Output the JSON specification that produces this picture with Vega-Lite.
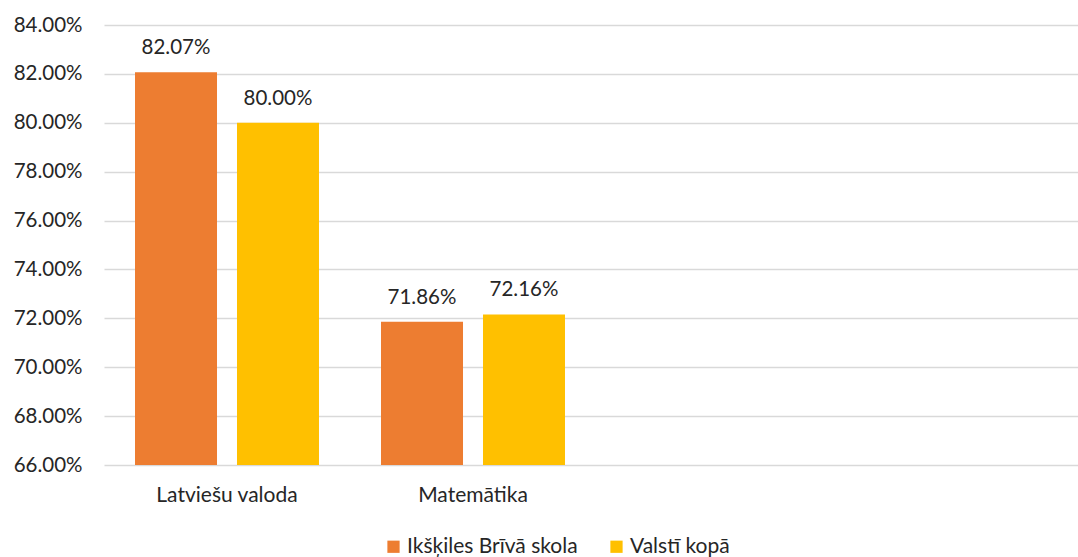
{
  "$schema": "https://vega.github.io/schema/vega-lite/v6.json",
  "width": 974,
  "height": 440,
  "padding": {"left": 104, "top": 25, "right": 0, "bottom": 92},
  "autosize": {"type": "none"},
  "background": "white",
  "config": {
    "view": {"stroke": null},
    "font": "Lato",
    "axis": {"labelFont": "Lato", "labelColor": "#262626", "labelFontSize": 20.5},
    "legend": {"labelFont": "Lato", "labelColor": "#262626", "labelFontSize": 21}
  },
  "data": {
    "values": [
      {"subject": "Latviešu valoda", "series": "Ikšķiles Brīvā skola", "value": 0.8207},
      {"subject": "Latviešu valoda", "series": "Valstī kopā", "value": 0.8},
      {"subject": "Matemātika", "series": "Ikšķiles Brīvā skola", "value": 0.7186},
      {"subject": "Matemātika", "series": "Valstī kopā", "value": 0.7216}
    ]
  },
  "encoding": {
    "x": {
      "field": "subject",
      "type": "nominal",
      "sort": null,
      "scale": {"domain": ["Latviešu valoda", "Matemātika", " ", "  "], "range": [0, 984], "paddingInner": 0, "paddingOuter": 0},
      "axis": {"title": null, "labelAngle": 0, "ticks": false, "domain": false, "labelPadding": 19, "labelFontSize": 21}
    },
    "xOffset": {
      "field": "series",
      "type": "nominal",
      "scale": {"paddingInner": 0.196, "paddingOuter": 0.304}
    },
    "y": {
      "field": "value",
      "type": "quantitative",
      "scale": {"domain": [0.66, 0.84], "zero": false, "clamp": true},
      "axis": {"title": null, "format": ".2%", "values": [0.66, 0.68, 0.70, 0.72, 0.74, 0.76, 0.78, 0.80, 0.82, 0.84], "ticks": false, "domain": false, "gridColor": "#D9D9D9", "gridWidth": 1.5, "labelPadding": 22}
    }
  },
  "layer": [
    {
      "mark": {"type": "bar"},
      "encoding": {
        "color": {
          "field": "series",
          "type": "nominal",
          "scale": {"domain": ["Ikšķiles Brīvā skola", "Valstī kopā"], "range": ["#ED7D31", "#FFC000"]},
          "legend": {
            "title": null,
            "orient": "none",
            "direction": "horizontal",
            "legendX": 279,
            "legendY": 511,
            "symbolType": "square",
            "symbolSize": 150,
            "symbolStrokeWidth": 0,
            "labelOffset": 3,
            "labelLimit": 500,
            "columnPadding": 28,
            "padding": 0
          }
        }
      }
    },
    {
      "mark": {"type": "text", "baseline": "alphabetic", "dy": -18, "fontSize": 20.5, "color": "#262626"},
      "encoding": {
        "text": {"field": "value", "type": "quantitative", "format": ".2%"}
      }
    }
  ]
}
